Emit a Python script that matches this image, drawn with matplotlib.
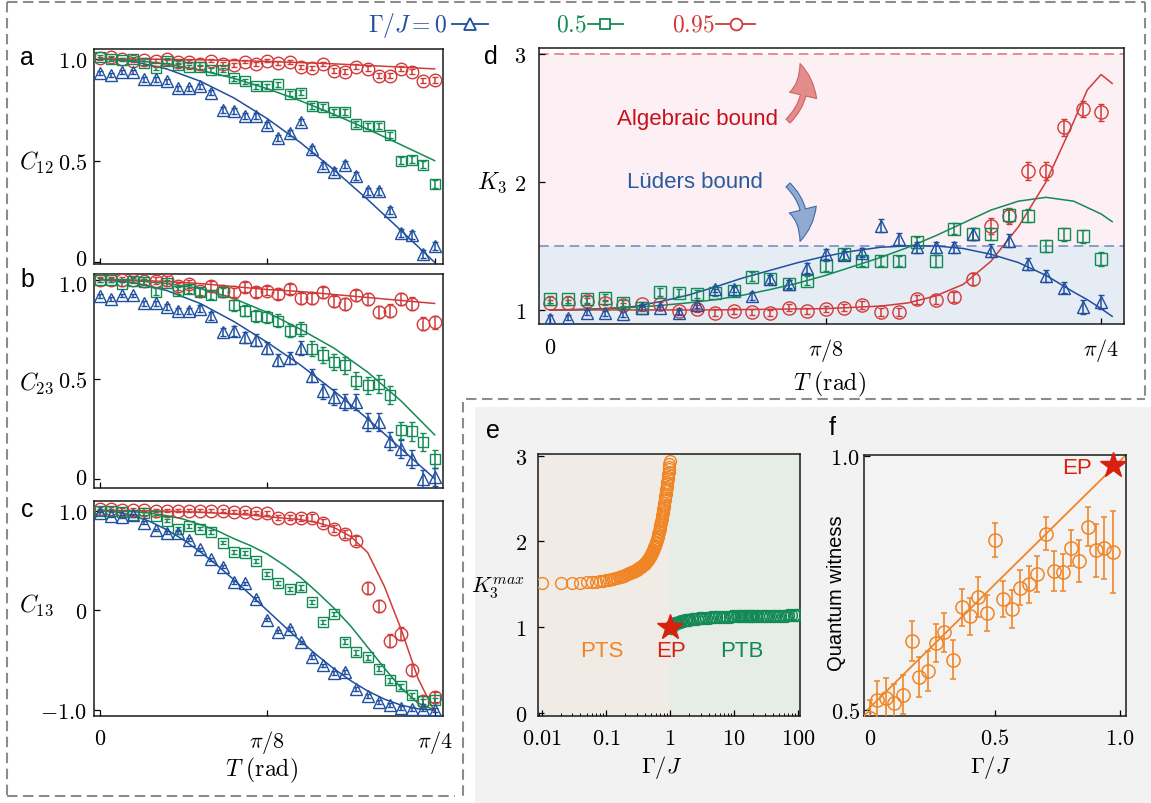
import numpy as np
import matplotlib
matplotlib.use('Agg')
import matplotlib.pyplot as plt
from matplotlib.patches import Rectangle, FancyArrowPatch
import matplotlib.ticker as mticker
import matplotlib.transforms as mtransforms

plt.rcParams['mathtext.fontset'] = 'cm'
plt.rcParams['font.family'] = ['Liberation Sans', 'DejaVu Sans']
plt.rcParams['lines.scale_dashes'] = False

# ---------------- data ----------------
k_idx = np.arange(31)
T = k_idx * np.pi / 120          # measurement times (regular grid)

a_blue = [0.93,0.92,0.935,0.935,0.90,0.90,0.89,0.855,0.855,0.865,0.835,0.75,0.745,0.72,0.72,0.675,0.61,0.635,0.69,0.555,0.475,0.445,0.48,0.425,0.35,0.35,0.255,0.145,0.135,0.04,0.08]
a_green = [1.01,1.0,0.997,1.0,0.98,0.955,0.99,0.97,0.96,0.96,0.945,0.945,0.905,0.89,0.865,0.865,0.875,0.83,0.835,0.77,0.765,0.74,0.74,0.68,0.67,0.67,0.625,0.5,0.505,0.48,0.385]
a_red = [1.003,1.008,1.0,0.992,0.997,0.992,1.0,0.984,0.987,0.975,0.992,0.975,0.97,0.987,0.975,0.992,0.979,0.984,0.959,0.954,0.975,0.943,0.938,0.962,0.951,0.918,0.918,0.951,0.938,0.893,0.897]
a_blue_err = [0.010,0.010,0.010,0.010,0.012,0.012,0.012,0.012,0.012,0.013,0.013,0.014,0.014,0.014,0.015,0.015,0.015,0.016,0.016,0.016,0.017,0.017,0.017,0.018,0.018,0.018,0.019,0.019,0.02,0.02,0.02]
a_green_err = [0.008,0.008,0.008,0.009,0.009,0.009,0.010,0.010,0.010,0.011,0.011,0.011,0.012,0.012,0.012,0.013,0.013,0.013,0.014,0.014,0.014,0.015,0.015,0.015,0.016,0.016,0.016,0.017,0.017,0.017,0.018]
a_red_err = [0.006,0.006,0.006,0.006,0.007,0.007,0.007,0.007,0.008,0.008,0.008,0.008,0.009,0.009,0.009,0.009,0.010,0.010,0.010,0.010,0.011,0.011,0.011,0.011,0.012,0.012,0.012,0.012,0.013,0.013,0.013]

b_blue = [0.916,0.903,0.92,0.92,0.881,0.881,0.861,0.844,0.844,0.853,0.816,0.739,0.744,0.711,0.697,0.656,0.594,0.607,0.656,0.518,0.438,0.41,0.385,0.385,0.284,0.284,0.187,0.147,0.10,0.0,0.008]
b_green = [1.0,1.0,0.978,0.995,0.987,0.94,0.983,0.945,0.953,0.936,0.923,0.936,0.87,0.844,0.819,0.811,0.794,0.744,0.753,0.652,0.619,0.585,0.569,0.493,0.468,0.477,0.418,0.242,0.237,0.184,0.10]
b_red = [1.0,1.0,1.0,1.0,0.995,0.995,1.0,0.967,0.978,0.945,0.97,0.945,0.936,0.962,0.936,0.945,0.928,0.953,0.906,0.906,0.936,0.89,0.878,0.92,0.903,0.839,0.844,0.903,0.878,0.778,0.786]
b_blue_err = [0.010,0.010,0.010,0.010,0.012,0.012,0.015,0.015,0.015,0.018,0.02,0.02,0.025,0.028,0.03,0.03,0.03,0.03,0.035,0.035,0.038,0.04,0.042,0.042,0.045,0.045,0.045,0.045,0.045,0.045,0.045]
b_green_err = [0.010,0.010,0.012,0.012,0.014,0.016,0.016,0.018,0.02,0.02,0.022,0.024,0.026,0.028,0.03,0.03,0.032,0.034,0.036,0.038,0.04,0.04,0.042,0.044,0.045,0.045,0.045,0.045,0.046,0.046,0.046]
b_red_err = [0.012,0.012,0.014,0.014,0.016,0.016,0.018,0.018,0.02,0.02,0.022,0.022,0.024,0.024,0.025,0.025,0.026,0.026,0.027,0.027,0.028,0.028,0.029,0.029,0.03,0.03,0.031,0.031,0.032,0.032,0.033]

c_blue = [0.973,0.947,0.94,0.953,0.88,0.807,0.78,0.78,0.707,0.613,0.513,0.437,0.28,0.27,0.113,-0.093,-0.213,-0.187,-0.32,-0.47,-0.553,-0.63,-0.62,-0.787,-0.86,-0.92,-0.953,-0.98,-0.987,-0.993,-1.0]
c_green = [1.0,1.0,0.99,0.953,0.973,0.947,0.897,0.82,0.847,0.82,0.787,0.68,0.587,0.573,0.497,0.363,0.27,0.213,0.23,0.08,-0.12,-0.037,-0.313,-0.42,-0.47,-0.587,-0.703,-0.76,-0.853,-0.913,-0.903]
c_red = [1.02,1.02,1.01,1.01,1.01,1.0,1.0,1.0,1.0,1.0,1.0,1.0,0.99,0.99,0.98,0.98,0.93,0.93,0.93,0.93,0.88,0.82,0.763,0.697,0.22,0.047,-0.303,-0.237,-0.603,-0.913,-0.87]
c_blue_err = [0.012,0.012,0.012,0.012,0.013,0.013,0.013,0.014,0.014,0.014,0.015,0.015,0.015,0.016,0.016,0.016,0.017,0.017,0.017,0.018,0.018,0.018,0.019,0.019,0.019,0.02,0.02,0.02,0.02,0.02,0.02]
c_green_err = [0.012,0.012,0.013,0.013,0.014,0.014,0.015,0.015,0.016,0.016,0.017,0.017,0.018,0.018,0.019,0.019,0.02,0.02,0.021,0.021,0.022,0.022,0.023,0.023,0.024,0.024,0.025,0.025,0.026,0.026,0.027]
c_red_err = [0.012,0.012,0.012,0.013,0.013,0.013,0.014,0.014,0.014,0.015,0.015,0.015,0.016,0.016,0.018,0.02,0.025,0.028,0.03,0.032,0.035,0.038,0.04,0.045,0.06,0.06,0.065,0.065,0.06,0.05,0.05]

d_blue = [0.927,0.94,0.979,0.974,0.966,1.018,1.018,0.979,1.037,1.162,1.162,1.11,1.24,1.2,1.33,1.435,1.428,1.448,1.657,1.553,1.488,1.488,1.488,1.592,1.462,1.54,1.357,1.266,1.175,1.026,1.063]
d_green = [1.083,1.083,1.083,1.096,1.052,1.018,1.141,1.136,1.123,1.136,1.149,1.261,1.24,1.2,1.227,1.344,1.435,1.383,1.383,1.383,1.527,1.383,1.636,1.592,1.592,1.741,1.735,1.5,1.592,1.574,1.396]
d_red = [1.057,1.057,1.07,1.057,1.037,1.044,1.044,0.992,1.01,0.979,0.992,0.984,0.974,1.018,0.992,1.005,1.018,1.037,0.984,0.984,1.083,1.078,1.102,1.24,1.657,1.735,2.087,2.087,2.426,2.57,2.544]
d_blue_err = [0.03,0.02,0.02,0.02,0.02,0.02,0.02,0.02,0.02,0.025,0.025,0.03,0.03,0.03,0.04,0.04,0.035,0.035,0.05,0.045,0.045,0.045,0.045,0.045,0.05,0.05,0.045,0.045,0.045,0.055,0.055]
d_green_err = [0.025,0.025,0.025,0.025,0.025,0.025,0.03,0.03,0.03,0.03,0.03,0.035,0.035,0.035,0.035,0.04,0.04,0.04,0.04,0.04,0.045,0.045,0.045,0.045,0.045,0.05,0.05,0.05,0.05,0.05,0.055]
d_red_err = [0.02,0.02,0.02,0.02,0.02,0.02,0.02,0.025,0.025,0.025,0.025,0.025,0.025,0.025,0.025,0.025,0.025,0.03,0.03,0.03,0.035,0.035,0.04,0.045,0.06,0.06,0.07,0.07,0.07,0.065,0.065]

# theory curves, abscissa in units of pi/4
fit_ab = [0.0,0.1,0.2,0.3,0.4,0.5,0.6,0.7,0.8,0.9,1.0]
a_blue_fit = [1.0,0.988,0.951,0.891,0.809,0.707,0.588,0.454,0.309,0.156,0.0]
a_green_fit = [1.0,0.994,0.976,0.945,0.905,0.854,0.794,0.727,0.655,0.578,0.5]
a_red_fit = [1.0,1.0,0.998,0.996,0.992,0.988,0.982,0.976,0.968,0.96,0.951]
b_blue_fit = [1.0,0.985,0.945,0.88,0.79,0.685,0.57,0.44,0.30,0.15,0.0]
b_green_fit = [1.0,0.995,0.98,0.955,0.905,0.835,0.75,0.655,0.535,0.39,0.22]
b_red_fit = [1.0,0.998,0.99,0.98,0.965,0.95,0.94,0.925,0.91,0.895,0.88]

fit_c = [0.0,0.05,0.1,0.15,0.2,0.25,0.3,0.35,0.4,0.45,0.5,0.55,0.6,0.65,0.7,0.75,0.8,0.85,0.9,0.95,1.0]
c_blue_fit = [1.0,0.988,0.951,0.891,0.809,0.707,0.588,0.454,0.309,0.156,0.0,-0.156,-0.309,-0.454,-0.588,-0.707,-0.809,-0.891,-0.951,-0.988,-1.0]
c_green_fit = [1.0,0.998,0.99,0.975,0.95,0.915,0.86,0.80,0.72,0.65,0.565,0.455,0.33,0.18,0.02,-0.16,-0.37,-0.58,-0.78,-0.93,-1.0]
c_red_fit = [1.0,1.0,1.0,0.998,0.995,0.99,0.985,0.975,0.965,0.955,0.94,0.925,0.91,0.88,0.83,0.74,0.58,0.24,-0.19,-0.68,-1.02]

fit_d = [0.0,0.05,0.1,0.15,0.2,0.25,0.3,0.35,0.4,0.45,0.5,0.55,0.6,0.65,0.7,0.75,0.8,0.85,0.9,0.95,0.975,1.0,1.02]
d_blue_fit = [1.0,1.003,1.01,1.025,1.065,1.115,1.18,1.25,1.31,1.37,1.42,1.46,1.49,1.50,1.50,1.48,1.435,1.37,1.27,1.14,1.08,1.01,0.95]
d_green_fit = [1.0,1.003,1.01,1.02,1.035,1.055,1.08,1.115,1.16,1.21,1.27,1.34,1.41,1.49,1.58,1.68,1.78,1.85,1.88,1.85,1.80,1.75,1.69]
d_red_fit = [1.0,1.0,1.0,1.0,1.0,1.0,1.0,1.003,1.005,1.008,1.01,1.02,1.03,1.055,1.11,1.20,1.38,1.65,2.0,2.47,2.72,2.84,2.77]

e_pts_gamma = np.round(np.arange(1, 100) * 0.01, 2)
e_pts_k = [1.510,1.512,1.515,1.518,1.522,1.526,1.531,1.537,1.543,1.549,
           1.555,1.561,1.567,1.573,1.579,1.585,1.591,1.597,1.603,1.609,
           1.615,1.621,1.627,1.633,1.639,1.645,1.651,1.657,1.663,1.670,
           1.676,1.683,1.690,1.697,1.704,1.711,1.719,1.727,1.735,1.743,
           1.751,1.760,1.769,1.778,1.788,1.798,1.808,1.819,1.830,1.841,
           1.853,1.865,1.878,1.891,1.905,1.919,1.933,1.948,1.963,1.979,
           1.995,2.012,2.029,2.047,2.066,2.085,2.105,2.125,2.146,2.168,
           2.190,2.212,2.235,2.258,2.281,2.305,2.329,2.353,2.378,2.403,
           2.428,2.454,2.480,2.506,2.532,2.559,2.586,2.613,2.640,2.668,
           2.696,2.724,2.752,2.781,2.810,2.840,2.870,2.900,2.935]
e_ptb_gamma = [1.02,1.05,1.08,1.12,1.16,1.2,1.25,1.3,1.36,1.42,
               1.5,1.6,1.7,1.8,1.9,2.0,2.2,2.4,2.6,2.8,
               3.0,3.3,3.6,4.0,4.4,4.8,5.3,5.8,6.4,7.0,
               7.7,8.5,9.3,10,11,12,13,14,15,16,
               17,18,19,20,22,24,26,28,30,33,
               36,40,44,48,53,58,64,70,77,85,93,100]
e_ptb_k = [0.995,1.01,1.02,1.03,1.04,1.045,1.05,1.055,1.06,1.065,
           1.07,1.075,1.08,1.083,1.086,1.089,1.093,1.097,1.10,1.103,
           1.105,1.108,1.11,1.113,1.115,1.117,1.119,1.12,1.122,1.123,
           1.124,1.125,1.126,1.127,1.128,1.129,1.13,1.13,1.131,1.131,
           1.132,1.132,1.132,1.133,1.133,1.134,1.134,1.134,1.135,1.135,
           1.135,1.135,1.136,1.136,1.136,1.136,1.136,1.137,1.137,1.137,1.137,1.137]
e_ep = (1.0, 1.0)

f_gamma = [0.0,0.029,0.064,0.097,0.133,0.167,0.196,0.231,0.264,0.297,0.331,0.367,0.40,0.433,0.467,0.50,0.533,0.567,0.60,0.636,0.669,0.703,0.736,0.772,0.805,0.837,0.871,0.904,0.937,0.973]
f_wit = [0.485,0.519,0.523,0.513,0.530,0.636,0.565,0.577,0.632,0.653,0.599,0.702,0.684,0.722,0.691,0.835,0.718,0.699,0.741,0.747,0.768,0.847,0.773,0.771,0.819,0.793,0.861,0.814,0.819,0.811]
f_err = [0.035,0.037,0.039,0.038,0.038,0.04,0.04,0.039,0.038,0.038,0.038,0.036,0.037,0.039,0.036,0.033,0.035,0.038,0.035,0.036,0.035,0.032,0.039,0.037,0.036,0.041,0.038,0.053,0.061,0.08]
f_line_g = [-0.01, 1.02]
f_line_w = [0.50, 1.0]
f_ep = (0.973, 0.982)

# ---------------- styling ----------------
BLUE = '#1f4f9e'
GREEN = '#138a55'
RED = '#d23a3a'
ORANGE = '#f08526'
STAR = '#d9200f'

W, H = 1151, 804
fig = plt.figure(figsize=(W / 100, H / 100), dpi=100)


def add_ax(l, t, r, b, **kw):
    return fig.add_axes([l / W, 1 - b / H, (r - l) / W, (b - t) / H], **kw)


# background layer (gray area + dashed frames)
bg = fig.add_axes([0, 0, 1, 1], zorder=-10)
bg.set_xlim(0, W)
bg.set_ylim(H, 0)
bg.axis('off')
bg.add_patch(Rectangle((475, 408), W - 475, H - 408, color='#f2f2f2', lw=0))
dash = dict(color='#8c8c8c', lw=1.5, ls=(0, (7.5, 4)))
bg.plot([7, 1145], [3, 3], **dash)
bg.plot([7, 7], [3, 797], **dash)
bg.plot([7, 455], [797, 797], **dash)
bg.plot([1145, 1145], [3, 400], **dash)
bg.plot([466, 1145], [400, 400], **dash)
bg.plot([463, 463], [403, 797], **dash)


def style(ax):
    for s in ax.spines.values():
        s.set_linewidth(1.1)
        s.set_color('#1a1a1a')
    ax.tick_params(direction='in', length=4, width=0.9, labelsize=16, pad=5)


def series(ax, x, y, err, color, marker, ms):
    ax.errorbar(x, y, yerr=err, fmt=marker, ms=ms, mfc='none', mec=color, mew=1.0,
                ecolor=color, elinewidth=1.1, capsize=2.3, capthick=1.1, zorder=3)


def shift_label(ax, idx, dy_px):
    lab = ax.yaxis.get_major_ticks()[idx].label1
    lab.set_transform(lab.get_transform() +
                      mtransforms.ScaledTranslation(0, dy_px / 100.0, fig.dpi_scale_trans))


Tticks = [0, np.pi / 8, np.pi / 4]
Tlabels = [r'$0$', r'$\pi/8$', r'$\pi/4$']
Tab = np.array(fit_ab) * np.pi / 4
Tc = np.array(fit_c) * np.pi / 4
Td = np.array(fit_d) * np.pi / 4

panels = [
    (50, 265, (-0.008, 1.049), a_blue, a_green, a_red, a_blue_err, a_green_err, a_red_err,
     Tab, a_blue_fit, a_green_fit, a_red_fit, [0, 0.5, 1.0], [r'$0$', r'$0.5$', r'$1.0$']),
    (275, 489, (-0.047, 1.028), b_blue, b_green, b_red, b_blue_err, b_green_err, b_red_err,
     Tab, b_blue_fit, b_green_fit, b_red_fit, [0, 0.5, 1.0], [r'$0$', r'$0.5$', r'$1.0$']),
    (502, 717, (-1.06, 1.097), c_blue, c_green, c_red, c_blue_err, c_green_err, c_red_err,
     Tc, c_blue_fit, c_green_fit, c_red_fit, [-1.0, 0, 1.0], [r'$-1.0$', r'$0$', r'$1.0$']),
]
axes_abc = []
for i, (t, b, yl, yb, yg, yr, eb, eg, er, tf, fb, fg_, fr, yt, ytl) in enumerate(panels):
    ax = add_ax(94, t, 443, b)
    style(ax)
    ax.plot(tf, fb, color=BLUE, lw=1.1, zorder=2)
    ax.plot(tf, fg_, color=GREEN, lw=1.1, zorder=2)
    ax.plot(tf, fr, color=RED, lw=1.1, zorder=2)
    series(ax, T, yr, er, RED, 'o', 9)
    series(ax, T, yg, eg, GREEN, 's', 7.2)
    series(ax, T, yb, eb, BLUE, '^', 8.2)
    ax.set_xlim(-0.0134, 0.805)
    ax.set_ylim(*yl)
    ax.set_xticks(Tticks)
    ax.yaxis.set_major_locator(mticker.FixedLocator(yt))
    ax.yaxis.set_major_formatter(mticker.FixedFormatter(ytl))
    if i < 2:
        ax.tick_params(labelbottom=False)
    else:
        ax.set_xticklabels(Tlabels)
        ax.tick_params(axis='x', pad=9)
    axes_abc.append(ax)

# avoid the stacked "0" / "1.0" labels touching between panels
shift_label(axes_abc[0], 0, 5)
shift_label(axes_abc[1], 0, 3)
shift_label(axes_abc[1], 2, -3)

# panel d
axd = add_ax(539, 49, 1124, 325)
style(axd)
axd.axhspan(1.5, 3.0, color='#fcf0f4', lw=0, zorder=0)
axd.axhspan(0.0, 1.5, color='#e6ecf3', lw=0, zorder=0)
axd.axhline(3.0, color='#e3858a', lw=1.3, ls=(0, (7, 4)), zorder=1)
axd.axhline(1.5, color='#7f98c6', lw=1.3, ls=(0, (7, 4)), zorder=1)
axd.plot(Td, d_blue_fit, color=BLUE, lw=1.1, zorder=2)
axd.plot(Td, d_green_fit, color=GREEN, lw=1.1, zorder=2)
axd.plot(Td, d_red_fit, color=RED, lw=1.1, zorder=2)
series(axd, T, d_red, d_red_err, RED, 'o', 9.5)
series(axd, T, d_green, d_green_err, GREEN, 's', 8.2)
series(axd, T, d_blue, d_blue_err, BLUE, '^', 8.2)
axd.set_xlim(-0.0157, 0.818)
axd.set_ylim(0.89, 3.047)
axd.set_xticks(Tticks)
axd.set_xticklabels(Tlabels)
axd.set_yticks([1, 2, 3])
axd.set_yticklabels([r'$1$', r'$2$', r'$3$'])
axd.tick_params(axis='y', pad=9)
axd.tick_params(axis='x', pad=9)

# panel e
axe = add_ax(538, 455, 800, 717)
style(axe)
axe.set_xscale('log')
axe.axvspan(0.001, 1.0, color='#f1ebe5', lw=0, zorder=0)
axe.axvspan(1.0, 1000, color='#e6ece6', lw=0, zorder=0)
axe.plot(e_pts_gamma, e_pts_k, 'o', ms=8.5, mfc='none', mec=ORANGE, mew=1.0, zorder=3)
axe.plot(e_ptb_gamma, e_ptb_k, 'o', ms=8.5, mfc='none', mec=GREEN, mew=1.1, zorder=3)
axe.plot([e_ep[0]], [e_ep[1]], '*', ms=19, color=STAR, mec=STAR, zorder=5)
axe.text(0.086, 0.73, 'PTS', color=ORANGE, fontsize=16, ha='center', va='center')
axe.text(1.03, 0.73, 'EP', color=STAR, fontsize=16, ha='center', va='center')
axe.text(13.0, 0.73, 'PTB', color=GREEN, fontsize=16, ha='center', va='center')
axe.set_xlim(0.0087, 107)
axe.set_ylim(-0.035, 3.02)
axe.set_xticks([0.01, 0.1, 1, 10, 100])
axe.set_xticklabels([r'$0.01$', r'$0.1$', r'$1$', r'$10$', r'$100$'])
axe.xaxis.set_minor_locator(mticker.LogLocator(base=10, subs=np.arange(2, 10), numticks=20))
axe.xaxis.set_minor_formatter(mticker.NullFormatter())
axe.tick_params(axis='x', which='minor', direction='in', length=2.5, width=0.7)
axe.set_yticks([0, 1, 2, 3])
axe.set_yticklabels([r'$0$', r'$1$', r'$2$', r'$3$'])
axe.tick_params(axis='y', pad=8)
axe.tick_params(axis='x', pad=9)

# panel f
axf = add_ax(864, 456, 1126, 717)
style(axf)
axf.set_facecolor('#f3f3f3')
axf.plot(f_line_g, f_line_w, color=ORANGE, lw=1.3, zorder=2)
axf.errorbar(f_gamma, f_wit, yerr=f_err, fmt='o', ms=9.5, mfc='none', mec=ORANGE, mew=1.1,
             ecolor=ORANGE, elinewidth=1.2, capsize=2.5, capthick=1.2, zorder=3)
axf.plot([f_ep[0]], [f_ep[1]], '*', ms=19, color=STAR, mec=STAR, zorder=5, clip_on=False)
axf.text(0.83, 0.978, 'EP', color=STAR, fontsize=16, ha='center', va='center')
axf.set_xlim(-0.024, 1.024)
axf.set_ylim(0.488, 1.002)
axf.set_xticks([0, 0.5, 1.0])
axf.set_xticklabels([r'$0$', r'$0.5$', r'$1.0$'])
axf.set_yticks([0.5, 1.0])
axf.set_yticklabels([r'$0.5$', r'$1.0$'])
axf.tick_params(axis='y', pad=3)
axf.tick_params(axis='x', pad=9)

# ---------------- foreground annotations ----------------
fg = fig.add_axes([0, 0, 1, 1], zorder=20)
fg.set_xlim(0, W)
fg.set_ylim(H, 0)
fg.axis('off')
fg.patch.set_visible(False)

# legend
ly = 25
fg.text(447, ly, r'$\Gamma/J=0$', color=BLUE, fontsize=17, ha='right', va='center')
fg.plot([452, 488], [ly, ly], color=BLUE, lw=1.3)
fg.plot([470], [ly], '^', ms=8.5, mfc='white', mec=BLUE, mew=1.3)
fg.text(587, ly, r'$0.5$', color=GREEN, fontsize=17, ha='right', va='center')
fg.plot([588, 623], [ly, ly], color=GREEN, lw=1.3)
fg.plot([605], [ly], 's', ms=7.5, mfc='white', mec=GREEN, mew=1.3)
fg.text(715, ly, r'$0.95$', color=RED, fontsize=17, ha='right', va='center')
fg.plot([716, 755], [ly, ly], color=RED, lw=1.3)
fg.plot([736], [ly], 'o', ms=8.5, mfc='white', mec=RED, mew=1.3)

# panel letters
for lab, x, y in [('a', 27, 58), ('b', 27, 280), ('c', 27, 510), ('d', 491, 57),
                  ('e', 493, 431), ('f', 832, 428)]:
    fg.text(x, y, lab, fontsize=18, ha='center', va='center', color='black')

# axis labels
fg.text(36, 163, r'$C_{12}$', fontsize=17, ha='center', va='center')
fg.text(36, 383, r'$C_{23}$', fontsize=17, ha='center', va='center')
fg.text(36, 605, r'$C_{13}$', fontsize=17, ha='center', va='center')
fg.text(261, 770, r'$T\ \mathrm{(rad)}$', fontsize=17, ha='center', va='center')
fg.text(492, 183, r'$K_3$', fontsize=17, ha='center', va='center')
fg.text(829, 384, r'$T\ \mathrm{(rad)}$', fontsize=17, ha='center', va='center')
fg.text(498, 588, r'$K_3^{max}$', fontsize=16, ha='center', va='center')
fg.text(662, 768, r'$\Gamma/J$', fontsize=16, ha='center', va='center')
fg.text(837, 593, 'Quantum witness', fontsize=14.5, rotation=90, ha='center', va='center')
fg.text(991, 768, r'$\Gamma/J$', fontsize=16, ha='center', va='center')

# bound annotations
fg.text(698, 119, 'Algebraic bound', color='#c8101a', fontsize=16, ha='center', va='center')
fg.text(695, 182, 'Lüders bound', color='#2a5a9c', fontsize=16, ha='center', va='center')
arr_r = FancyArrowPatch((786, 124), (799, 62), connectionstyle='arc3,rad=0.35',
                        arrowstyle='simple,head_width=2.0,head_length=2.3,tail_width=0.4',
                        mutation_scale=10, fc='#e48c8c', ec='#d06262', lw=0.8)
fg.add_patch(arr_r)
arr_b = FancyArrowPatch((786, 184), (799, 245), connectionstyle='arc3,rad=-0.35',
                        arrowstyle='simple,head_width=2.0,head_length=2.3,tail_width=0.4',
                        mutation_scale=10, fc='#90aad2', ec='#3d6aa8', lw=0.8)
fg.add_patch(arr_b)

fig.savefig('out.png', dpi=100)
